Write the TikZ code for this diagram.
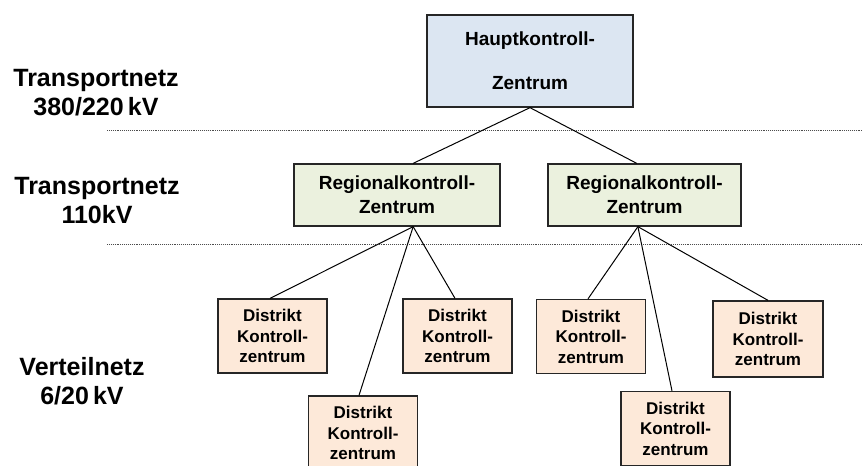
\documentclass[tikz,border=0pt]{standalone}
\usepackage{fontspec}
\setmainfont{Liberation Sans}
\usetikzlibrary{calc}
\definecolor{hauptfill}{RGB}{220,230,242}
\definecolor{regfill}{RGB}{235,241,222}
\definecolor{distfill}{RGB}{253,233,217}
\tikzset{
  box/.style={draw=black!85, line width=1.3pt, inner sep=0pt, align=center},
  hauptbox/.style={box, fill=hauptfill, minimum width=206pt, minimum height=92pt,
    font={\fontsize{19}{44}\selectfont\bfseries}},
  regbox/.style={box, fill=regfill, minimum height=62pt,
    font={\fontsize{19}{24}\selectfont\bfseries}},
  distbox/.style={box, fill=distfill, minimum width=109pt, minimum height=74pt,
    font={\fontsize{17}{20.5}\selectfont\bfseries}},
  levellabel/.style={align=center, inner sep=0pt, font={\fontsize{25}{29}\selectfont\bfseries}},
  sep/.style={draw=black!70, line width=0.8pt, dash pattern=on 0.8pt off 1.1pt},
  link/.style={draw=black, line width=1pt}
}
\begin{document}
\begin{tikzpicture}[x=1pt,y=-1pt]
\useasboundingbox (0,0) rectangle (863,466);
\clip (0,0) rectangle (863,466);
\fill[white] (0,0) rectangle (863,466);

% level labels
\node[levellabel] (l1) at (96,93) {Transportnetz\\380/220\,kV};
\node[levellabel] (l2) at (97,201) {Transportnetz\\110kV};
\node[levellabel] (l3) at (82,381) {Verteilnetz\\6/20\,kV};

% separators
\coordinate (s1a) at (107,130);
\coordinate (s1b) at (863,130);
\coordinate (s2a) at (107,244);
\coordinate (s2b) at (863,244);
\draw[sep] (s1a) -- (s1b);
\draw[sep] (s2a) -- (s2b);

% boxes
\node[hauptbox] (top) at (530,61) {Hauptkontroll-\\Zentrum};
\node[regbox, minimum width=206pt] (r1) at (397,195) {Regionalkontroll-\\Zentrum};
\node[regbox, minimum width=193pt] (r2) at (644.5,195) {Regionalkontroll-\\Zentrum};

\node[distbox] (d1) at (272.5,336) {Distrikt\\Kontroll-\\zentrum};
\node[distbox] (d2) at (363,433) {Distrikt\\Kontroll-\\zentrum};
\node[distbox] (d3) at (457.5,336) {Distrikt\\Kontroll-\\zentrum};
\node[distbox] (d4) at (591,336.5) {Distrikt\\Kontroll-\\zentrum};
\node[distbox] (d5) at (675.5,428.5) {Distrikt\\Kontroll-\\zentrum};
\node[distbox, minimum width=110pt, minimum height=76pt] (d6) at (768,339) {Distrikt\\Kontroll-\\zentrum};

% connectors
\draw[link] (top.south) -- ($(r1.north west)!0.578!(r1.north east)$);
\draw[link] (top.south) -- ($(r2.north west)!0.46!(r2.north east)$);

\draw[link] ($(r1.south west)!0.578!(r1.south east)$) -- ($(d1.north)+(-2.5,0)$);
\draw[link] ($(r1.south west)!0.578!(r1.south east)$) -- ($(d2.north)+(-4,0)$);
\draw[link] ($(r1.south west)!0.578!(r1.south east)$) -- ($(d3.north)+(-2.5,0)$);

\draw[link] ($(r2.south west)!0.466!(r2.south east)$) -- ($(d4.north)+(-3,0)$);
\draw[link] ($(r2.south west)!0.466!(r2.south east)$) -- ($(d5.north)+(-3.5,0)$);
\draw[link] ($(r2.south west)!0.466!(r2.south east)$) -- (d6.north);
\end{tikzpicture}
\end{document}
